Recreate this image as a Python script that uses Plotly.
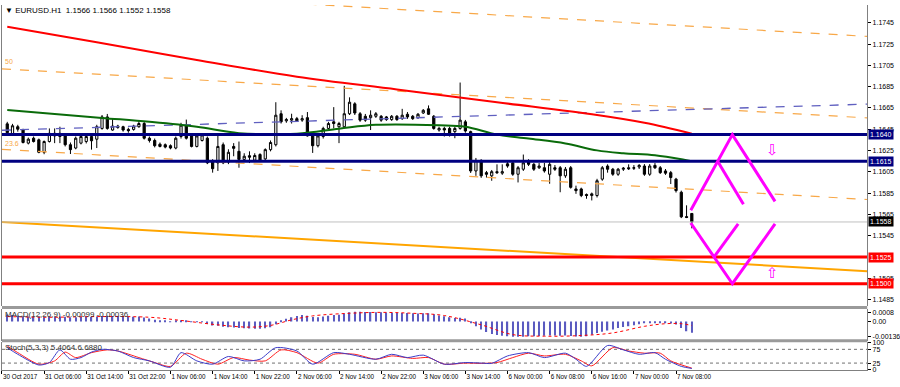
import plotly.graph_objects as go

W, H = 900, 387

# ---------------- data ----------------
time_labels = ["30 Oct 2017", "31 Oct 06:00", "31 Oct 14:00", "31 Oct 22:00", "1 Nov 06:00",
               "1 Nov 14:00", "1 Nov 22:00", "2 Nov 06:00", "2 Nov 14:00", "2 Nov 22:00",
               "3 Nov 06:00", "3 Nov 14:00", "6 Nov 00:00", "6 Nov 08:00", "6 Nov 16:00",
               "7 Nov 00:00", "7 Nov 08:00"]
time_label_idx = [-1, 7, 15, 23, 31, 39, 47, 55, 63, 71, 79, 87, 95, 103, 111, 119, 127]

opens = [1.16501, 1.16409, 1.16474, 1.16446, 1.16320, 1.16366, 1.16351, 1.16234, 1.16335, 1.16412,
         1.16382, 1.16388, 1.16305, 1.16274, 1.16320, 1.16335, 1.16382, 1.16357, 1.16458, 1.16566,
         1.16443, 1.16480, 1.16474, 1.16449, 1.16449, 1.16474, 1.16504, 1.16366, 1.16345, 1.16310,
         1.16305, 1.16296, 1.16274, 1.16382, 1.16489, 1.16397, 1.16289, 1.16345, 1.16366, 1.16151,
         1.16135, 1.16305, 1.16142, 1.16289, 1.16243, 1.16167, 1.16202, 1.16160, 1.16213, 1.16172,
         1.16259, 1.16305, 1.16596, 1.16529, 1.16536, 1.16550, 1.16536, 1.16559, 1.16406, 1.16296,
         1.16382, 1.16458, 1.16520, 1.16474, 1.16474, 1.16596, 1.16689, 1.16596, 1.16572, 1.16559,
         1.16572, 1.16572, 1.16566, 1.16541, 1.16572, 1.16550, 1.16591, 1.16572, 1.16559, 1.16603,
         1.16642, 1.16572, 1.16443, 1.16458, 1.16458, 1.16428, 1.16458, 1.16520, 1.16428, 1.16059,
         1.16158, 1.16043, 1.16013, 1.16052, 1.16038, 1.16126, 1.16135, 1.16028, 1.16075, 1.16151,
         1.16121, 1.16089, 1.16089, 1.16028, 1.16089, 1.16089, 1.16013, 1.16089, 1.15890, 1.15890,
         1.15838, 1.15828, 1.15828, 1.15982, 1.16105, 1.16075, 1.16028, 1.16075, 1.16089, 1.16084,
         1.16096, 1.16105, 1.16028, 1.16111, 1.16089, 1.16059, 1.16043, 1.15982, 1.15859, 1.15630,
         1.15660]
highs = [1.16520, 1.16501, 1.16492, 1.16455, 1.16372, 1.16382, 1.16363, 1.16345, 1.16458, 1.16458,
         1.16474, 1.16400, 1.16326, 1.16382, 1.16412, 1.16400, 1.16400, 1.16492, 1.16584, 1.16594,
         1.16550, 1.16492, 1.16483, 1.16465, 1.16492, 1.16536, 1.16520, 1.16382, 1.16363, 1.16326,
         1.16317, 1.16308, 1.16382, 1.16511, 1.16541, 1.16409, 1.16400, 1.16409, 1.16382, 1.16169,
         1.16397, 1.16326, 1.16262, 1.16320, 1.16335, 1.16225, 1.16243, 1.16225, 1.16225, 1.16271,
         1.16345, 1.16704, 1.16628, 1.16557, 1.16596, 1.16566, 1.16582, 1.16612, 1.16418, 1.16400,
         1.16474, 1.16520, 1.16658, 1.16520, 1.16858, 1.16750, 1.16704, 1.16612, 1.16594, 1.16628,
         1.16612, 1.16584, 1.16575, 1.16584, 1.16584, 1.16642, 1.16612, 1.16584, 1.16603, 1.16640,
         1.16674, 1.16584, 1.16474, 1.16474, 1.16474, 1.16474, 1.16889, 1.16538, 1.16437, 1.16181,
         1.16169, 1.16059, 1.16068, 1.16121, 1.16121, 1.16158, 1.16151, 1.16105, 1.16213, 1.16169,
         1.16133, 1.16133, 1.16135, 1.16142, 1.16114, 1.16105, 1.16096, 1.16105, 1.15921, 1.15902,
         1.15847, 1.15856, 1.15985, 1.16105, 1.16121, 1.16087, 1.16087, 1.16096, 1.16121, 1.16114,
         1.16123, 1.16123, 1.16123, 1.16133, 1.16105, 1.16077, 1.16059, 1.15994, 1.15874, 1.15736,
         1.15660]
lows = [1.16400, 1.16400, 1.16428, 1.16317, 1.16308, 1.16326, 1.16225, 1.16216, 1.16326, 1.16320,
        1.16320, 1.16289, 1.16218, 1.16262, 1.16308, 1.16317, 1.16259, 1.16274, 1.16446, 1.16446,
        1.16437, 1.16455, 1.16428, 1.16418, 1.16437, 1.16465, 1.16354, 1.16326, 1.16280, 1.16280,
        1.16271, 1.16262, 1.16262, 1.16363, 1.16354, 1.16280, 1.16280, 1.16335, 1.16123, 1.16043,
        1.16059, 1.16123, 1.16123, 1.16197, 1.16089, 1.16151, 1.16133, 1.16142, 1.16142, 1.16160,
        1.16243, 1.16289, 1.16504, 1.16511, 1.16504, 1.16520, 1.16520, 1.16382, 1.16228, 1.16280,
        1.16363, 1.16446, 1.16458, 1.16320, 1.16465, 1.16584, 1.16584, 1.16520, 1.16520, 1.16443,
        1.16557, 1.16520, 1.16529, 1.16529, 1.16529, 1.16538, 1.16548, 1.16538, 1.16548, 1.16594,
        1.16584, 1.16446, 1.16428, 1.16382, 1.16382, 1.16366, 1.16446, 1.16418, 1.16040, 1.16013,
        1.15994, 1.15997, 1.15967, 1.16031, 1.16022, 1.16089, 1.16013, 1.15951, 1.16059, 1.16105,
        1.16059, 1.16077, 1.16043, 1.15939, 1.16059, 1.15859, 1.15994, 1.15893, 1.15844, 1.15813,
        1.15798, 1.15782, 1.15810, 1.15967, 1.16043, 1.16013, 1.16013, 1.16059, 1.16068, 1.16068,
        1.16077, 1.16013, 1.16013, 1.16077, 1.16031, 1.16022, 1.15936, 1.15856, 1.15616, 1.15616,
        1.15520]
closes = [1.16418, 1.16483, 1.16451, 1.16326, 1.16357, 1.16335, 1.16234, 1.16335, 1.16412, 1.16388,
          1.16412, 1.16305, 1.16259, 1.16366, 1.16382, 1.16382, 1.16342, 1.16474, 1.16566, 1.16458,
          1.16480, 1.16467, 1.16443, 1.16437, 1.16480, 1.16504, 1.16366, 1.16345, 1.16296, 1.16289,
          1.16283, 1.16274, 1.16366, 1.16489, 1.16366, 1.16289, 1.16388, 1.16397, 1.16135, 1.16080,
          1.16289, 1.16135, 1.16234, 1.16271, 1.16167, 1.16197, 1.16188, 1.16204, 1.16151, 1.16259,
          1.16326, 1.16582, 1.16520, 1.16541, 1.16550, 1.16529, 1.16550, 1.16388, 1.16296, 1.16388,
          1.16458, 1.16504, 1.16504, 1.16504, 1.16596, 1.16704, 1.16603, 1.16536, 1.16536, 1.16582,
          1.16596, 1.16536, 1.16541, 1.16572, 1.16541, 1.16582, 1.16566, 1.16550, 1.16591, 1.16628,
          1.16591, 1.16458, 1.16458, 1.16443, 1.16412, 1.16458, 1.16536, 1.16434, 1.16059, 1.16158,
          1.16013, 1.16028, 1.16052, 1.16043, 1.16052, 1.16105, 1.16028, 1.16089, 1.16135, 1.16121,
          1.16075, 1.16105, 1.16059, 1.16121, 1.16075, 1.16013, 1.16075, 1.15905, 1.15874, 1.15828,
          1.15828, 1.15844, 1.15967, 1.16089, 1.16075, 1.16028, 1.16075, 1.16084, 1.16080, 1.16089,
          1.16111, 1.16028, 1.16105, 1.16089, 1.16043, 1.16038, 1.15997, 1.15874, 1.15628, 1.15623,
          1.15580]
bar_idx = list(range(len(closes)))

# moving averages (anchor readings: bar index, price)
ma_red_idx = [0, 17, 36, 55, 74, 93, 112, 121, 130]
ma_red_val = [1.17412, 1.17267, 1.17101, 1.16944, 1.16824, 1.16704, 1.16584, 1.16511, 1.16409]
ma_green_idx = [0, 18, 27, 36, 44, 55, 63, 70, 82, 87, 93, 99, 106, 112, 117, 123, 129, 130]
ma_green_val = [1.16631, 1.16557, 1.16520, 1.16474, 1.16414, 1.16409, 1.16455, 1.16492, 1.16488,
                1.16474, 1.16400, 1.16363, 1.16317, 1.16252, 1.16225, 1.16206, 1.16160, 1.16151]

# trend / fibonacci channel lines: (start idx, start price, end idx, end price)
chart_left, chart_right = -1.0, 163.3
fib_dashed = [(-1.0, 1.17791, 163.3, 1.17322),
              (-1.0, 1.17018, 163.3, 1.16557),
              (-1.0, 1.16262, 163.3, 1.15791)]
fib_solid = (-1.0, 1.15579, 163.3, 1.15118)
blue_trend = (-1.0, 1.16441, 163.3, 1.16686)

levels_navy = [1.1640, 1.1615]
levels_red = [1.1525, 1.1500]
last_price = 1.1558

# projected zig-zag paths
zz_up_x = [129.8, 137.7, 145.8]
zz_up_y = [1.15690, 1.16400, 1.15773]
zz_up_in_x = [134.9, 139.8]
zz_up_in_y = [1.16150, 1.15746]
zz_dn_x = [129.8, 137.7, 145.8]
zz_dn_y = [1.15570, 1.15000, 1.15561]
zz_dn_in_x = [134.2, 138.8]
zz_dn_in_y = [1.15250, 1.15561]
arrow_idx = 145.4
arrow_down_price = 1.16252
arrow_up_price = 1.15100

main_ticks = [1.1745, 1.1725, 1.1705, 1.1685, 1.1665, 1.1645, 1.1625, 1.1605, 1.1585,
              1.1565, 1.1545, 1.1505, 1.1485]

macd_hist = [0.00062, 0.00056, 0.00050, 0.00046, 0.00043, 0.00041, 0.00039, 0.00038, 0.00040, 0.00042,
             0.00043, 0.00041, 0.00037, 0.00037, 0.00039, 0.00040, 0.00039, 0.00043, 0.00049, 0.00050,
             0.00049, 0.00047, 0.00044, 0.00042, 0.00042, 0.00043, 0.00035, 0.00026, 0.00016, 0.00008,
             0.00002, -0.00003, 0.00001, 0.00006, 0.00005, -0.00002, -0.00004, -0.00003, -0.00022, -0.00036,
             -0.00038, -0.00047, -0.00051, -0.00053, -0.00058, -0.00061, -0.00063, -0.00064, -0.00064, -0.00061,
             -0.00052, -0.00024, 0.00004, 0.00024, 0.00038, 0.00049, 0.00057, 0.00050, 0.00040, 0.00038,
             0.00043, 0.00050, 0.00056, 0.00060, 0.00070, 0.00080, 0.00086, 0.00086, 0.00084, 0.00083,
             0.00082, 0.00080, 0.00078, 0.00077, 0.00075, 0.00075, 0.00074, 0.00072, 0.00071, 0.00072,
             0.00073, 0.00063, 0.00053, 0.00045, 0.00037, 0.00031, 0.00033, 0.00027, -0.00012, -0.00042,
             -0.00072, -0.00094, -0.00110, -0.00120, -0.00127, -0.00131, -0.00134, -0.00136, -0.00134, -0.00131,
             -0.00130, -0.00128, -0.00127, -0.00125, -0.00124, -0.00126, -0.00124, -0.00128, -0.00133, -0.00136,
             -0.00130, -0.00118, -0.00102, -0.00090, -0.00080, -0.00070, -0.00058, -0.00050, -0.00043, -0.00033,
             -0.00025, -0.00016, -0.00012, -0.00010, -0.00012, -0.00014, -0.00018, -0.00028, -0.00058, -0.00086,
             -0.00099]
macd_sig_idx = [0, 8, 17, 27, 33, 40, 46, 50, 54, 58, 65, 71, 77, 83, 90, 96, 102, 109, 115, 121, 125, 128, 130]
macd_sig_val = [0.00043, 0.00037, 0.00043, 0.00037, 0.00009, -0.00030, -0.00050, -0.00035, 0.00014, 0.00049,
                0.00072, 0.00080, 0.00072, 0.00052, -0.00030, -0.00116, -0.00130, -0.00124, -0.00101,
                -0.00043, -0.00020, -0.00020, -0.00036]
macd_ticks = [0.0008, 0.0, -0.00136]
macd_ticktext = ["0.0008", "0.00", "-0.00136"]

stoch_k_idx = [0, 2, 6, 8, 10, 12, 14, 16, 18, 21, 24, 27, 31, 33, 36, 39, 42, 45, 48, 51, 55, 58, 62,
               65, 70, 73, 76, 79, 83, 87, 90, 92, 95, 99, 102, 106, 108, 110, 114, 117, 120, 123, 125,
               128, 130]
stoch_k_val = [81, 57, 18, 27, 73, 39, 45, 65, 75, 69, 45, 33, 10, 63, 33, 21, 49, 33, 39, 81, 69, 21, 63,
               57, 39, 57, 45, 54, 21, 27, 25, 24, 51, 63, 45, 61, 39, 13, 89, 73, 57, 63, 39, 13, 5.4]
stoch_d_idx = [0, 2, 6, 9, 11, 13, 16, 19, 21, 25, 28, 31, 34, 37, 40, 43, 46, 49, 52, 55, 59, 62, 66,
               70, 73, 77, 80, 83, 87, 90, 93, 96, 99, 102, 106, 109, 111, 115, 118, 121, 124, 126, 130]
stoch_d_val = [87, 63, 21, 33, 65, 45, 63, 73, 69, 45, 27, 13, 61, 39, 21, 45, 36, 33, 73, 63, 25, 57, 57,
               39, 51, 42, 45, 21, 25, 24, 27, 45, 61, 51, 57, 33, 15, 81, 69, 61, 61, 33, 6.7]
stoch_levels = [75, 25]
stoch_ticks = [100, 75, 25, 0]

title_text = "EURUSD.H1 &nbsp;1.1566 1.1566 1.1552 1.1558"
macd_text = "MACD(12,26,9) -0.00099 -0.00036"
stoch_text = "Stoch(5,3,3) 5.4064 6.6880"

# ---------------- layout helpers ----------------
def py(px):
    return 1 - px / H

def pxx(px):
    return px / W

FONT = "Liberation Sans, Arial, sans-serif"
ORANGE_D = "#f8a848"
ORANGE = "#ffa500"
NAVY = "#000080"
RED = "#ff0000"
MAG = "#ff00ff"

fig = go.Figure()

fig.add_trace(go.Candlestick(
    x=bar_idx, open=opens, high=highs, low=lows, close=closes,
    increasing=dict(line=dict(color="black", width=1), fillcolor="white"),
    decreasing=dict(line=dict(color="black", width=1), fillcolor="black"),
    whiskerwidth=0, hoverinfo="skip", xaxis="x", yaxis="y"))

def seg(t, color, width, dash=None, yaxis="y"):
    fig.add_trace(go.Scatter(x=[t[0], t[2]], y=[t[1], t[3]], mode="lines",
                             line=dict(color=color, width=width, dash=dash),
                             hoverinfo="skip", xaxis="x", yaxis=yaxis))

for t in fib_dashed:
    seg(t, ORANGE_D, 1.2, "dash")
seg(fib_solid, ORANGE, 2)
seg(blue_trend, "#6060c0", 1.3, "dash")

fig.add_trace(go.Scatter(x=ma_red_idx, y=ma_red_val, mode="lines", line=dict(color=RED, width=2, shape="spline"),
                         hoverinfo="skip", xaxis="x", yaxis="y"))
fig.add_trace(go.Scatter(x=ma_green_idx, y=ma_green_val, mode="lines",
                         line=dict(color="#0a6b0a", width=2, shape="spline"),
                         hoverinfo="skip", xaxis="x", yaxis="y"))

seg((chart_left, last_price, chart_right, last_price), "#c0c0c0", 1)
for lv in levels_navy:
    seg((chart_left, lv, chart_right, lv), NAVY, 3)
for lv in levels_red:
    seg((chart_left, lv, chart_right, lv), RED, 3)

for xs, ys in [(zz_up_x, zz_up_y), (zz_up_in_x, zz_up_in_y), (zz_dn_x, zz_dn_y), (zz_dn_in_x, zz_dn_in_y)]:
    fig.add_trace(go.Scatter(x=xs, y=ys, mode="lines", line=dict(color=MAG, width=3),
                             hoverinfo="skip", xaxis="x", yaxis="y"))

# MACD
fig.add_trace(go.Bar(x=bar_idx, y=macd_hist, width=0.25, marker=dict(color="#5a5ac0", line=dict(width=0)),
                     hoverinfo="skip", xaxis="x", yaxis="y2"))
fig.add_trace(go.Scatter(x=macd_sig_idx, y=macd_sig_val, mode="lines",
                         line=dict(color=RED, width=1, dash="dot", shape="spline"),
                         hoverinfo="skip", xaxis="x", yaxis="y2"))

# Stochastic
for lv in stoch_levels:
    seg((chart_left, lv, chart_right, lv), "#707070", 1, "dot", yaxis="y3")
fig.add_trace(go.Scatter(x=stoch_d_idx, y=stoch_d_val, mode="lines",
                         line=dict(color="#ff2020", width=1, shape="spline", smoothing=0.7),
                         hoverinfo="skip", xaxis="x", yaxis="y3"))
fig.add_trace(go.Scatter(x=stoch_k_idx, y=stoch_k_val, mode="lines",
                         line=dict(color="#3c3cc8", width=1, shape="spline", smoothing=0.7),
                         hoverinfo="skip", xaxis="x", yaxis="y3"))

tickfont = dict(family=FONT, size=7, color="black")
axis_common = dict(showgrid=False, zeroline=False, showline=True, linecolor="#808080", linewidth=1,
                   mirror=True, ticks="outside", ticklen=3, tickcolor="black", tickfont=tickfont,
                   anchor="x", side="right", fixedrange=True)

annotations = [
    dict(x=pxx(3), y=py(7), xref="paper", yref="paper", xanchor="left", yanchor="middle",
         text="▼ " + title_text, showarrow=False, font=dict(family=FONT, size=8, color="black")),
    dict(x=pxx(3), y=py(59), xref="paper", yref="paper", xanchor="left", yanchor="middle",
         text="50", showarrow=False, font=dict(family=FONT, size=7, color=ORANGE_D)),
    dict(x=pxx(3), y=py(142), xref="paper", yref="paper", xanchor="left", yanchor="middle",
         text="23.6", showarrow=False, font=dict(family=FONT, size=7, color=ORANGE_D)),
    dict(x=pxx(3), y=py(316), xref="paper", yref="paper", xanchor="left", yanchor="middle",
         text=macd_text, showarrow=False, font=dict(family=FONT, size=8, color="#303030")),
    dict(x=pxx(3), y=py(350), xref="paper", yref="paper", xanchor="left", yanchor="middle",
         text=stoch_text, showarrow=False, font=dict(family=FONT, size=8, color="#303030")),
    dict(x=arrow_idx, y=arrow_down_price, xref="x", yref="y", text="⇩", showarrow=False,
         font=dict(family="DejaVu Sans", size=15, color=MAG)),
    dict(x=arrow_idx, y=arrow_up_price, xref="x", yref="y", text="⇧", showarrow=False,
         font=dict(family="DejaVu Sans", size=15, color=MAG)),
]
for lv, bg in [(levels_navy[0], NAVY), (levels_navy[1], NAVY), (last_price, "black"),
               (levels_red[0], RED), (levels_red[1], RED)]:
    annotations.append(dict(x=pxx(874), y=lv, xref="paper", yref="y", xanchor="left", yanchor="middle",
                            text=f"{lv:.4f}", showarrow=False, bgcolor=bg, borderpad=1,
                            font=dict(family=FONT, size=7, color="white")))

shapes = [
    dict(type="rect", xref="paper", yref="paper", x0=pxx(2), x1=pxx(873), y0=py(310.5), y1=py(307.5),
         fillcolor="#9a9a9a", line=dict(width=0)),
    dict(type="rect", xref="paper", yref="paper", x0=pxx(2), x1=pxx(873), y0=py(344.5), y1=py(341.5),
         fillcolor="#9a9a9a", line=dict(width=0)),
]

fig.update_layout(
    width=W, height=H, margin=dict(l=0, r=0, t=0, b=0),
    paper_bgcolor="white", plot_bgcolor="white", showlegend=False, hovermode=False,
    boxgap=0.4,
    xaxis=dict(domain=[pxx(2), pxx(873)], range=[chart_left, chart_right], anchor="y3",
               tickvals=time_label_idx, ticktext=time_labels, ticklabelposition="outside right",
               tickangle=0,
               ticks="outside", ticklen=3, tickcolor="black",
               tickfont=dict(family=FONT, size=6.3, color="black"),
               showgrid=False, zeroline=False, showline=True, linecolor="#808080",
               rangeslider=dict(visible=False), fixedrange=True),
    yaxis=dict(domain=[py(308), py(1)], range=[1.14787, 1.17617], tickvals=main_ticks,
               ticktext=[f"{v:.4f}" for v in main_ticks], **axis_common),
    yaxis2=dict(domain=[py(343), py(311)], range=[-0.001706, 0.001065], tickvals=macd_ticks,
                ticktext=macd_ticktext, **axis_common),
    yaxis3=dict(domain=[py(372.7), py(344.7)], range=[0, 100], tickvals=stoch_ticks,
                ticktext=[str(v) for v in stoch_ticks], **axis_common),
    annotations=annotations, shapes=shapes,
)

fig.write_html("out.html", config={"displayModeBar": False},
               post_script="document.body.style.margin='0px';document.body.style.overflow='hidden';")
